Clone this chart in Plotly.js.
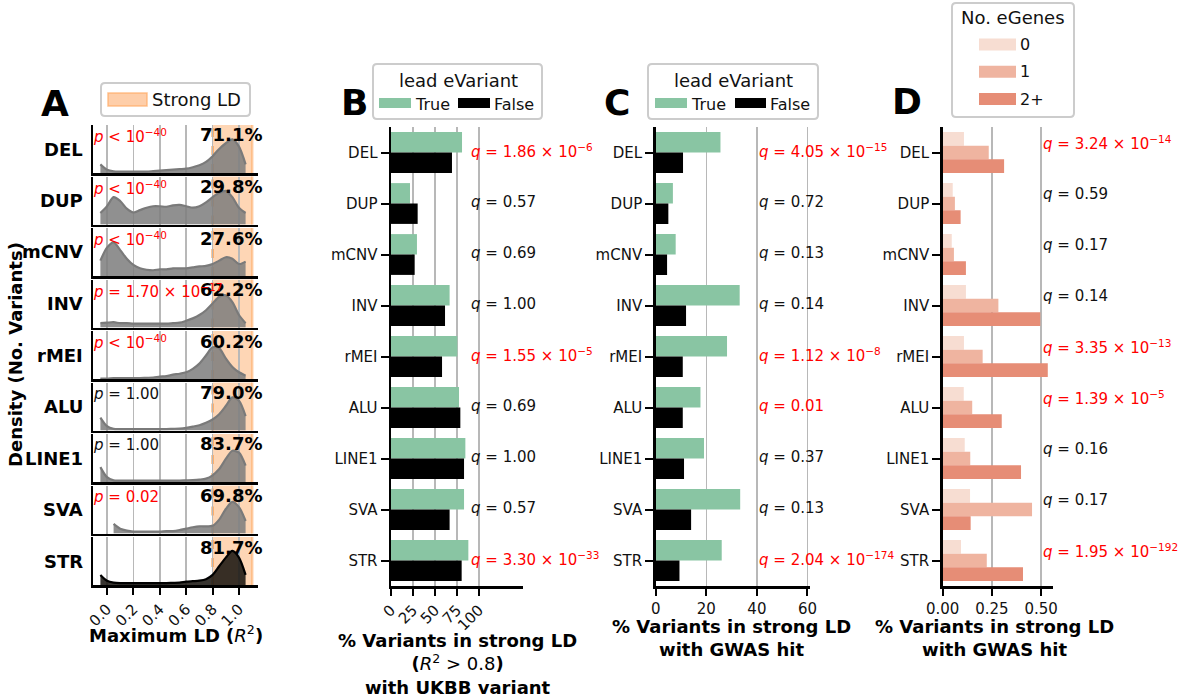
<!DOCTYPE html>
<html>
<head>
<meta charset="utf-8">
<script src="https://cdn.plot.ly/plotly-3.0.1.min.js"></script>
<style>html,body{margin:0;padding:0;background:#fff;}#chart{width:1183px;height:698px;}</style>
</head>
<body>
<div id="chart"></div>
<script>
// ---------------- DATA ----------------
const CATEGORIES = ['DEL', 'DUP', 'mCNV', 'INV', 'rMEI', 'ALU', 'LINE1', 'SVA', 'STR'];

// Panel A: density of maximum LD (R^2) per SV type (relative height)
const LD_X = [-0.05, 0, 0.05, 0.1, 0.15, 0.2, 0.25, 0.3, 0.35, 0.4, 0.45, 0.5, 0.55, 0.6, 0.65, 0.7, 0.75, 0.8, 0.85, 0.9, 0.95, 1.0, 1.05];
const DENSITY_DEL   = [0.18, 0.07, 0.035, 0.03, 0.03, 0.03, 0.03, 0.03, 0.04, 0.05, 0.06, 0.07, 0.08, 0.09, 0.12, 0.16, 0.23, 0.35, 0.5, 0.62, 0.7, 0.55, 0.18];
const DENSITY_DUP   = [0.24, 0.38, 0.57, 0.49, 0.33, 0.25, 0.3, 0.35, 0.38, 0.38, 0.37, 0.4, 0.41, 0.38, 0.35, 0.38, 0.46, 0.57, 0.66, 0.7, 0.57, 0.35, 0.24];
const DENSITY_MCNV  = [0.32, 0.59, 0.7, 0.54, 0.36, 0.23, 0.16, 0.13, 0.12, 0.14, 0.14, 0.16, 0.16, 0.16, 0.18, 0.2, 0.21, 0.25, 0.32, 0.39, 0.36, 0.25, 0.3];
const DENSITY_INV   = [0.09, 0.1, 0.11, 0.09, 0.09, 0.08, 0.08, 0.08, 0.08, 0.08, 0.08, 0.09, 0.1, 0.14, 0.19, 0.26, 0.36, 0.5, 0.64, 0.67, 0.53, 0.26, 0.09];
const DENSITY_RMEI  = [0.01, 0.01, 0.02, 0.02, 0.02, 0.02, 0.02, 0.025, 0.03, 0.05, 0.06, 0.09, 0.11, 0.14, 0.21, 0.32, 0.49, 0.66, 0.64, 0.43, 0.25, 0.14, 0.07];
const DENSITY_ALU   = [0.27, 0.09, 0.035, 0.03, 0.03, 0.03, 0.03, 0.03, 0.03, 0.03, 0.03, 0.035, 0.04, 0.055, 0.08, 0.11, 0.16, 0.23, 0.34, 0.51, 0.69, 0.62, 0.3];
const DENSITY_LINE1 = [0.31, 0.1, 0.035, 0.03, 0.03, 0.03, 0.03, 0.03, 0.03, 0.03, 0.03, 0.03, 0.03, 0.035, 0.04, 0.05, 0.07, 0.14, 0.27, 0.48, 0.65, 0.61, 0.34];
const DENSITY_SVA   = [null, null, 0.2, 0.1, 0.06, 0.04, 0.04, 0.04, 0.04, 0.04, 0.05, 0.05, 0.07, 0.1, 0.13, 0.15, 0.15, 0.16, 0.29, 0.51, 0.66, 0.55, 0.26];
const DENSITY_STR   = [0.21, 0.09, 0.05, 0.04, 0.04, 0.04, 0.04, 0.04, 0.04, 0.04, 0.04, 0.045, 0.05, 0.07, 0.08, 0.09, 0.12, 0.21, 0.39, 0.57, 0.71, 0.57, 0.21];
const DENSITIES = [DENSITY_DEL, DENSITY_DUP, DENSITY_MCNV, DENSITY_INV, DENSITY_RMEI, DENSITY_ALU, DENSITY_LINE1, DENSITY_SVA, DENSITY_STR];
const PCT_STRONG_LD = [71.1, 29.8, 27.6, 62.2, 60.2, 79.0, 83.7, 69.8, 81.7];
const P_VALUES_A = ['<1e-40', '<1e-40', '<1e-40', 1.70e-17, '<1e-40', 1.00, 1.00, 0.02, null];
const STRONG_LD_RANGE = [0.8, 1.1];
const LD_TICKS = [0, 0.2, 0.4, 0.6, 0.8, 1.0];

// Panel B: % variants in strong LD with UKBB variant
const UKBB_LEAD_TRUE  = [80.7, 21.6, 29.5, 66.6, 75.4, 77.3, 84.5, 83.0, 87.9];
const UKBB_LEAD_FALSE = [69.3, 30.3, 26.9, 61.4, 58.0, 78.8, 83.0, 66.6, 80.3];
const Q_B = [1.86e-6, 0.57, 0.69, 1.00, 1.55e-5, 0.69, 1.00, 0.57, 3.30e-33];
const B_TICKS = [0, 25, 50, 75, 100];

// Panel C: % variants in strong LD with GWAS hit, by lead eVariant
const GWAS_LEAD_TRUE  = [25.6, 6.8, 7.9, 33.2, 28.2, 17.7, 19.1, 33.4, 26.1];
const GWAS_LEAD_FALSE = [10.8, 5.0, 4.5, 12.0, 10.7, 10.7, 11.2, 14.0, 9.4];
const Q_C = [4.05e-15, 0.72, 0.13, 0.14, 1.12e-8, 0.01, 0.37, 0.13, 2.04e-174];
const C_TICKS = [0, 20, 40, 60];

// Panel D: % variants in strong LD with GWAS hit, by number of eGenes
const EGENE_GROUPS = ['0', '1', '2+'];
const GWAS_EGENES_0  = [0.108, 0.051, 0.046, 0.118, 0.108, 0.107, 0.112, 0.139, 0.093];
const GWAS_EGENES_1  = [0.234, 0.062, 0.057, 0.283, 0.203, 0.150, 0.140, 0.454, 0.224];
const GWAS_EGENES_2P = [0.312, 0.091, 0.118, 0.496, 0.534, 0.300, 0.398, 0.142, 0.408];
const Q_D = [3.24e-14, 0.59, 0.17, 0.14, 3.35e-13, 1.39e-5, 0.16, 0.17, 1.95e-192];
const D_TICKS = [0, 0.25, 0.5];

// ---------------- STYLE / HELPERS ----------------
const W = 1183, H = 698;
const px = x => x / W;
const py = y => 1 - y / H;
const FONT = 'DejaVu Sans';
const RED = '#ff0000', INK = '#111111';
const GREEN = '#89c5a3';
const EGENE_COLORS = ['#f7ddd2', '#efb4a0', '#e68d76'];
const GRID = '#b8b8b8';

function sciHTML(v) {
  const parts = v.toExponential(2).split('e');
  const exp = parseInt(parts[1], 10);
  return parts[0] + ' × 10<sup>' + (exp < 0 ? '−' + Math.abs(exp) : exp) + '</sup>';
}
function statText(sym, v) {
  if (typeof v === 'string' && v[0] === '<') {
    const exp = Math.round(Math.log10(parseFloat(v.slice(1))));
    return { text: '<i>' + sym + '</i> < 10<sup>−' + Math.abs(exp) + '</sup>', sig: true };
  }
  const txt = v < 0.005 ? sciHTML(v) : v.toFixed(2);
  return { text: '<i>' + sym + '</i> = ' + txt, sig: v < 0.05 };
}
function roundRect(x0, y0, x1, y1, r) {
  return `M${px(x0 + r)},${py(y0)} L${px(x1 - r)},${py(y0)} Q${px(x1)},${py(y0)} ${px(x1)},${py(y0 + r)} ` +
    `L${px(x1)},${py(y1 - r)} Q${px(x1)},${py(y1)} ${px(x1 - r)},${py(y1)} L${px(x0 + r)},${py(y1)} ` +
    `Q${px(x0)},${py(y1)} ${px(x0)},${py(y1 - r)} L${px(x0)},${py(y0 + r)} Q${px(x0)},${py(y0)} ${px(x0 + r)},${py(y0)} Z`;
}

const traces = [];
const shapes = [];
const annotations = [];
const layout = {
  width: W, height: H,
  margin: { l: 0, r: 0, t: 0, b: 0 },
  paper_bgcolor: '#ffffff', plot_bgcolor: 'rgba(0,0,0,0)',
  font: { family: FONT, size: 15, color: INK },
  showlegend: false,
  barmode: 'group', bargap: 0.2, bargroupgap: 0
};

// ---------------- PANEL A ----------------
const A_X0 = 93, A_X1 = 258, ROW_TOP0 = 125, ROW_PITCH = 51.5, ROW_H = 48;
CATEGORIES.forEach((cat, i) => {
  const sfx = i === 0 ? '' : String(i + 1);
  const top = ROW_TOP0 + i * ROW_PITCH, bot = top + ROW_H;
  const last = i === CATEGORIES.length - 1;
  layout['xaxis' + sfx] = {
    domain: [px(A_X0), px(A_X1)], range: [-0.106, 1.144], anchor: 'y' + sfx,
    tickvals: LD_TICKS, tickformat: '.1f', showgrid: true, gridcolor: GRID, gridwidth: 1.5,
    showline: true, linecolor: '#000', linewidth: 2.5, zeroline: false,
    showticklabels: last, ticks: last ? 'outside' : '', ticklen: 7, tickwidth: 2, tickcolor: '#000',
    tickangle: -45, tickfont: { size: 15, color: INK }, fixedrange: true
  };
  layout['yaxis' + sfx] = {
    domain: [py(bot), py(top)], range: [0, 1], anchor: 'x' + sfx,
    showline: true, linecolor: '#000', linewidth: 2.5, showgrid: false, zeroline: false,
    showticklabels: false, ticks: '', fixedrange: true
  };
  const isSTR = cat === 'STR';
  traces.push({
    type: 'scatter', mode: 'lines', x: LD_X, y: DENSITIES[i],
    xaxis: 'x' + sfx, yaxis: 'y' + sfx, fill: 'tozeroy',
    fillcolor: isSTR ? 'rgba(20,16,12,0.85)' : 'rgba(125,125,125,0.85)',
    line: { color: isSTR ? '#000000' : '#7a7a7a', width: 2.2, shape: 'spline', smoothing: 0.8 },
    hoverinfo: 'skip'
  });
  // strong LD band
  shapes.push({ type: 'rect', xref: 'x' + sfx, yref: 'y' + sfx + ' domain', x0: STRONG_LD_RANGE[0], x1: STRONG_LD_RANGE[1], y0: 0, y1: 1,
    fillcolor: 'rgba(253,174,107,0.5)', line: { width: 0 }, layer: 'below' });
  STRONG_LD_RANGE.forEach((xv, k) => shapes.push({ type: 'line', xref: 'x' + sfx, yref: 'y' + sfx + ' domain', x0: xv, x1: xv, y0: 0, y1: 1,
    line: { color: k === 0 ? 'rgba(253,160,80,0.85)' : 'rgba(253,174,107,0.6)', width: 2.5, dash: k === 0 ? 'dash' : 'solid' }, layer: 'below' }));
  // row label
  annotations.push({ xref: 'paper', yref: 'paper', x: px(85), y: py(top + ROW_H / 2), xanchor: 'right', yanchor: 'middle',
    text: '<b>' + cat + '</b>', showarrow: false, font: { size: 18, color: '#000' } });
  // percent in strong LD
  annotations.push({ xref: 'paper', yref: 'paper', x: px(264), y: py(top + 10), xanchor: 'right', yanchor: 'middle',
    text: '<b>' + PCT_STRONG_LD[i].toFixed(1) + '%</b>', showarrow: false, font: { size: 18, color: '#000' } });
  // p-value
  if (P_VALUES_A[i] !== null) {
    const st = statText('p', P_VALUES_A[i]);
    annotations.push({ xref: 'paper', yref: 'paper', x: px(91), y: py(top + 11), xanchor: 'left', yanchor: 'middle',
      text: st.text, showarrow: false, font: { size: 15, color: st.sig ? RED : INK } });
  }
});
annotations.push({ xref: 'paper', yref: 'paper', x: px(175.5), y: py(634), xanchor: 'center', yanchor: 'middle',
  text: '<b>Maximum LD (</b><i>R</i><sup>2</sup><b>)</b>', showarrow: false, font: { size: 18, color: '#000' } });
annotations.push({ xref: 'paper', yref: 'paper', x: px(15), y: py(355), xanchor: 'center', yanchor: 'middle', textangle: -90,
  text: '<b>Density (No. Variants)</b>', showarrow: false, font: { size: 18, color: '#000' } });

// ---------------- PANELS B, C, D (bar panels) ----------------
const IDX = CATEGORIES.map((c, i) => i);
function barAxes(n, x0, x1, range, ticks, tickangle, tickformat) {
  layout['xaxis' + n] = {
    domain: [px(x0), px(x1)], range: range, anchor: 'y' + n, tickvals: ticks, tickformat: tickformat,
    showgrid: true, gridcolor: GRID, gridwidth: 1.5, showline: true, linecolor: '#000', linewidth: 2.5,
    zeroline: false, ticks: 'outside', ticklen: 7, tickwidth: 2, tickcolor: '#000', tickangle: tickangle,
    tickfont: { size: 15, color: INK }, fixedrange: true
  };
  layout['yaxis' + n] = {
    domain: [py(586), py(127)], range: [CATEGORIES.length - 0.5, -0.5], anchor: 'x' + n,
    tickvals: IDX, ticktext: CATEGORIES, showgrid: false, zeroline: false,
    showline: true, linecolor: '#000', linewidth: 2.5, ticks: 'outside', ticklen: 8, tickwidth: 2, tickcolor: '#000',
    tickfont: { size: 15, color: INK }, fixedrange: true
  };
}
barAxes(10, 391, 523, [0, 150], B_TICKS, -45, 'd');
barAxes(11, 655.7, 810, [0, 61], C_TICKS, 0, 'd');
barAxes(12, 942.7, 1053.3, [0, 0.562], D_TICKS, 0, '.2f');

function hbar(x, n, color) {
  return { type: 'bar', orientation: 'h', x: x, y: IDX, xaxis: 'x' + n, yaxis: 'y' + n,
    marker: { color: color, line: { width: 0 } }, hoverinfo: 'skip' };
}
traces.push(hbar(UKBB_LEAD_TRUE, 10, GREEN), hbar(UKBB_LEAD_FALSE, 10, '#000000'));
traces.push(hbar(GWAS_LEAD_TRUE, 11, GREEN), hbar(GWAS_LEAD_FALSE, 11, '#000000'));
[GWAS_EGENES_0, GWAS_EGENES_1, GWAS_EGENES_2P].forEach((s, k) => traces.push(hbar(s, 12, EGENE_COLORS[k])));

function qLabels(qs, n, xpos, yoff) {
  qs.forEach((q, i) => {
    const st = statText('q', q);
    annotations.push({ xref: 'x' + n, yref: 'y' + n, x: xpos, y: i + yoff, xanchor: 'left', yanchor: 'middle',
      text: st.text, showarrow: false, font: { size: 15, color: st.sig ? RED : INK } });
  });
}
qLabels(Q_B, 10, 88.5, -0.03);
qLabels(Q_C, 11, 40, -0.03);
qLabels(Q_D, 12, 0.5, -0.18);

annotations.push({ xref: 'paper', yref: 'paper', x: px(457), y: py(664), xanchor: 'center', yanchor: 'middle',
  text: '<b>% Variants in strong LD</b><br><b>(</b><i>R</i><sup>2</sup> > 0.8<b>)</b><br><b>with UKBB variant</b>',
  showarrow: false, font: { size: 18, color: '#000' } });
annotations.push({ xref: 'paper', yref: 'paper', x: px(731), y: py(614), xanchor: 'center', yanchor: 'top',
  text: '<b>% Variants in strong LD</b><br><b>with GWAS hit</b>', showarrow: false, font: { size: 18, color: '#000' } });
annotations.push({ xref: 'paper', yref: 'paper', x: px(995), y: py(614), xanchor: 'center', yanchor: 'top',
  text: '<b>% Variants in strong LD</b><br><b>with GWAS hit</b>', showarrow: false, font: { size: 18, color: '#000' } });

// ---------------- PANEL LETTERS ----------------
[['A', 55, 103], ['B', 354, 102], ['C', 617, 102], ['D', 907, 101]].forEach(([t, x, y]) => {
  annotations.push({ xref: 'paper', yref: 'paper', x: px(x), y: py(y), xanchor: 'center', yanchor: 'middle',
    text: '<b>' + t + '</b>', showarrow: false, font: { size: 36, color: '#000' } });
});

// ---------------- LEGENDS ----------------
function legendBox(x0, y0, x1, y1) {
  shapes.push({ type: 'path', xref: 'paper', yref: 'paper', path: roundRect(x0, y0, x1, y1, 4),
    fillcolor: 'rgba(255,255,255,0.85)', line: { color: '#cccccc', width: 2 }, layer: 'above' });
}
function legendPatch(x0, y0, x1, y1, color, lineColor) {
  shapes.push({ type: 'rect', xref: 'paper', yref: 'paper', x0: px(x0), x1: px(x1), y0: py(y1), y1: py(y0),
    fillcolor: color, line: { color: lineColor || color, width: lineColor ? 1.5 : 0 }, layer: 'above' });
}
function legendText(x, y, text, size, anchor) {
  annotations.push({ xref: 'paper', yref: 'paper', x: px(x), y: py(y), xanchor: anchor || 'left', yanchor: 'middle',
    text: text, showarrow: false, font: { size: size, color: INK } });
}
// A legend
legendBox(101, 83, 250, 116);
legendPatch(108, 93, 147, 106, 'rgba(253,190,140,0.75)', 'rgba(253,170,100,0.7)');
legendText(150, 100, 'Strong LD', 18);
// B legend
legendBox(373, 64, 542, 119);
legendText(458, 80, 'lead eVariant', 18, 'center');
legendPatch(379, 98, 411, 108, GREEN);
legendText(413, 104, 'True', 16);
legendPatch(458, 98, 490, 108, '#000000');
legendText(492, 104, 'False', 16);
// C legend
legendBox(648, 64, 818, 119);
legendText(733, 80, 'lead eVariant', 18, 'center');
legendPatch(655, 98, 687, 108, GREEN);
legendText(689, 104, 'True', 16);
legendPatch(735, 98, 766, 108, '#000000');
legendText(768, 104, 'False', 16);
// D legend
legendBox(952, 3, 1074, 117);
legendText(1013, 18, 'No. eGenes', 18, 'center');
EGENE_GROUPS.forEach((g, k) => {
  const yc = 44.5 + k * 27.3;
  legendPatch(979, yc - 6, 1016, yc + 6, EGENE_COLORS[k]);
  legendText(1018, yc, g, 16);
});

layout.shapes = shapes;
layout.annotations = annotations;
Plotly.newPlot('chart', traces, layout, { staticPlot: true, displayModeBar: false });
</script>
</body>
</html>
